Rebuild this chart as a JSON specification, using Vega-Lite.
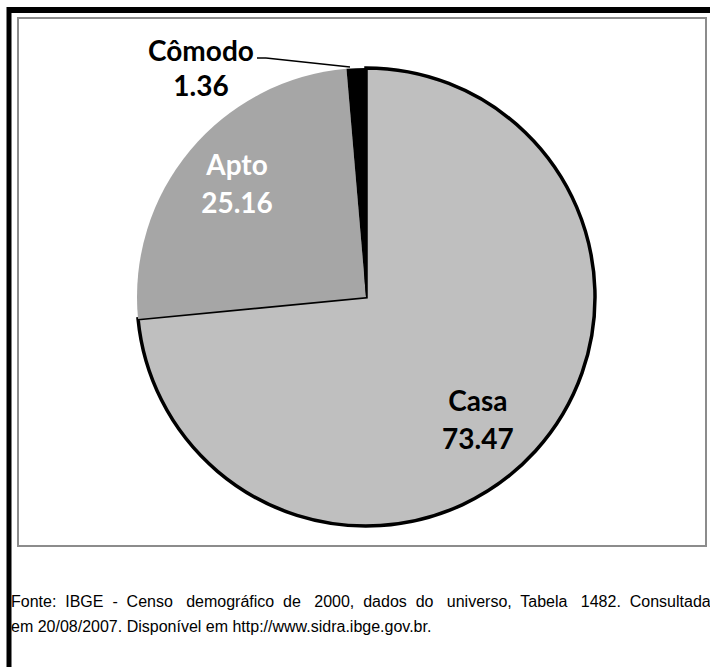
{
  "$schema": "https://vega.github.io/schema/vega-lite/v6.json",
  "width": 688,
  "height": 528,
  "autosize": {"type": "none"},
  "padding": {"left": 18, "top": 18, "right": 4, "bottom": 121},
  "background": "white",
  "view": {"stroke": "#8c8c8c", "strokeWidth": 2},
  "data": {
    "values": [
      {"tipo": "Casa", "pct": 73.47, "label": ["Casa", "73.47"]},
      {"tipo": "Apto", "pct": 25.16, "label": ["Apto", "25.16"]},
      {"tipo": "Cômodo", "pct": 1.36, "label": ["Cômodo", "1.36"]}
    ]
  },
  "layer": [
    {
      "mark": {"type": "arc", "x": 348, "y": 279, "outerRadius": 229, "stroke": "black"},
      "encoding": {
        "theta": {"field": "pct", "type": "quantitative", "stack": true},
        "order": {"field": "pct", "type": "quantitative", "sort": "descending"},
        "color": {
          "field": "tipo",
          "type": "nominal",
          "scale": {"domain": ["Casa", "Apto", "Cômodo"], "range": ["#bfbfbf", "#a6a6a6", "#000000"]},
          "legend": null
        },
        "strokeWidth": {"condition": {"test": "datum.tipo === 'Casa'", "value": 3.5}, "value": 0}
      }
    },
    {
      "mark": {"type": "text", "x": 348, "y": 279, "radius": 168, "dx": -12.5, "dy": -6.5, "font": "Lato", "fontWeight": "bold", "fontSize": 28, "lineHeight": 38, "color": "black", "baseline": "middle", "align": "center"},
      "encoding": {
        "theta": {"field": "pct", "type": "quantitative", "stack": true},
        "order": {"field": "pct", "type": "quantitative", "sort": "descending"},
        "text": {"condition": {"test": "datum.tipo === 'Casa'", "field": "label"}, "value": ""}
      }
    },
    {
      "mark": {"type": "text", "x": 348, "y": 279, "radius": 170, "dx": 1.6, "dy": -21, "font": "Lato", "fontWeight": "bold", "fontSize": 28, "lineHeight": 38, "color": "white", "baseline": "middle", "align": "center"},
      "encoding": {
        "theta": {"field": "pct", "type": "quantitative", "stack": true},
        "order": {"field": "pct", "type": "quantitative", "sort": "descending"},
        "text": {"condition": {"test": "datum.tipo === 'Apto'", "field": "label"}, "value": ""}
      }
    },
    {
      "mark": {"type": "text", "x": 348, "y": 279, "radius": 235, "dx": -155, "dy": -9, "font": "Lato", "fontWeight": "bold", "fontSize": 28, "lineHeight": 35, "color": "black", "baseline": "middle", "align": "center"},
      "encoding": {
        "theta": {"field": "pct", "type": "quantitative", "stack": true},
        "order": {"field": "pct", "type": "quantitative", "sort": "descending"},
        "text": {"condition": {"test": "datum.tipo === 'Cômodo'", "field": "label"}, "value": ""}
      }
    },
    {
      "data": {"values": [{}]},
      "mark": {"type": "rule", "stroke": "black", "strokeWidth": 1.5},
      "encoding": {"x": {"value": 239}, "x2": {"value": 248}, "y": {"value": 40}, "y2": {"value": 40}}
    },
    {
      "data": {"values": [{}]},
      "mark": {"type": "rule", "stroke": "black", "strokeWidth": 1.5},
      "encoding": {"x": {"value": 248}, "x2": {"value": 332}, "y": {"value": 40}, "y2": {"value": 49}}
    },
    {
      "data": {"values": [{}]},
      "mark": {"type": "rule", "stroke": "black", "strokeWidth": 6},
      "encoding": {"x": {"value": -11}, "x2": {"value": 700}, "y": {"value": -8}, "y2": {"value": -8}}
    },
    {
      "data": {"values": [{}]},
      "mark": {"type": "rule", "stroke": "black", "strokeWidth": 5},
      "encoding": {"x": {"value": -9}, "x2": {"value": -9}, "y": {"value": -11}, "y2": {"value": 660}}
    },
    {
      "data": {"values": [{}]},
      "mark": {"type": "text", "align": "left", "baseline": "top", "font": "Liberation Sans", "fontSize": 16, "lineHeight": 25, "color": "black"},
      "encoding": {
        "x": {"value": -7},
        "y": {"value": 576},
        "text": {"value": ["Fonte:\u00a0 IBGE\u00a0 -\u00a0 Censo\u00a0\u00a0 demográfico\u00a0 de\u00a0\u00a0 2000,\u00a0 dados\u00a0 do\u00a0\u00a0 universo,\u00a0 Tabela\u00a0\u00a0 1482.\u00a0 Consultada", "em 20/08/2007. Disponível em http://www.sidra.ibge.gov.br."]}
      }
    }
  ],
  "config": {
    "view": {"stroke": "#8c8c8c", "strokeWidth": 2}
  }
}
